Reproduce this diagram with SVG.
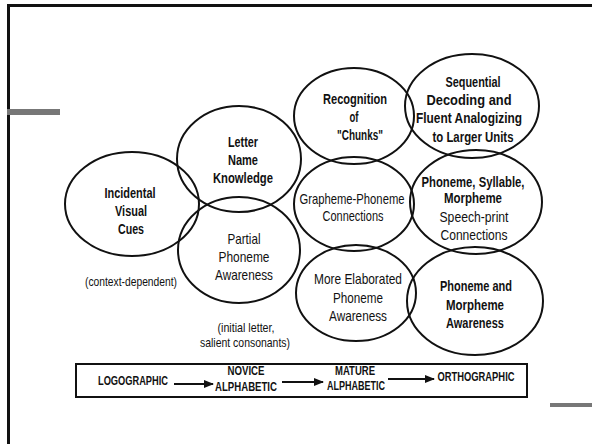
<svg xmlns="http://www.w3.org/2000/svg" width="592" height="444" viewBox="0 0 592 444">
<defs>
<style>
.e{fill:none;stroke:#111;stroke-width:2}
.t{font-family:"Liberation Sans",Arial,sans-serif;font-size:15px;font-weight:bold;fill:#111;text-anchor:middle}
.n{font-weight:normal}
.s{font-size:13px}
.b{font-size:12px}
.c{stroke:#111;stroke-width:2;fill:none}
</style>
<marker id="ah" viewBox="0 0 10 10" refX="9" refY="5" markerWidth="5" markerHeight="5" orient="auto" markerUnits="strokeWidth">
<path d="M0,1 L10,5 L0,9 Z" fill="#111"/>
</marker>
</defs>
<rect width="592" height="444" fill="#fff"/>
<path d="M8.5,444 V5.5 H592" fill="none" stroke="#111" stroke-width="3"/>
<rect x="7" y="109" width="53" height="6" fill="#777"/>
<rect x="550" y="403" width="42" height="4" fill="#777"/>

<g id="incidental">
<ellipse class="e" cx="132" cy="204" rx="67" ry="52"/>
<text class="t" x="130" y="198" textLength="51" lengthAdjust="spacingAndGlyphs">Incidental</text>
<text class="t" x="131" y="216" textLength="32" lengthAdjust="spacingAndGlyphs">Visual</text>
<text class="t" x="131" y="234" textLength="26" lengthAdjust="spacingAndGlyphs">Cues</text>
</g>
<g id="letter-name">
<ellipse class="e" cx="239" cy="159" rx="62" ry="53"/>
<text class="t" x="243" y="147" textLength="30" lengthAdjust="spacingAndGlyphs">Letter</text>
<text class="t" x="243" y="165" textLength="30" lengthAdjust="spacingAndGlyphs">Name</text>
<text class="t" x="243" y="183" textLength="60" lengthAdjust="spacingAndGlyphs">Knowledge</text>
</g>
<g id="partial">
<ellipse class="e" cx="239" cy="250" rx="61" ry="53"/>
<text class="t n" x="244" y="244" textLength="33" lengthAdjust="spacingAndGlyphs">Partial</text>
<text class="t n" x="244" y="262" textLength="51" lengthAdjust="spacingAndGlyphs">Phoneme</text>
<text class="t n" x="244" y="280" textLength="58" lengthAdjust="spacingAndGlyphs">Awareness</text>
</g>
<g id="chunks">
<ellipse class="e" cx="354" cy="116" rx="60" ry="48"/>
<text class="t" x="355" y="104" textLength="64" lengthAdjust="spacingAndGlyphs">Recognition</text>
<text class="t" x="354" y="122" textLength="9" lengthAdjust="spacingAndGlyphs">of</text>
<text class="t" x="360" y="140" textLength="46" lengthAdjust="spacingAndGlyphs">"Chunks"</text>
</g>
<g id="sequential">
<ellipse class="e" cx="472" cy="106" rx="67" ry="52"/>
<text class="t" x="473" y="87" textLength="55" lengthAdjust="spacingAndGlyphs">Sequential</text>
<text class="t" x="469" y="105" textLength="85" lengthAdjust="spacingAndGlyphs">Decoding and</text>
<text class="t" x="469" y="123" textLength="106" lengthAdjust="spacingAndGlyphs">Fluent Analogizing</text>
<text class="t" x="473" y="142" textLength="81" lengthAdjust="spacingAndGlyphs">to Larger Units</text>
</g>
<g id="grapheme">
<ellipse class="e" cx="354" cy="204" rx="60" ry="47"/>
<text class="t n" x="352" y="204" textLength="105" lengthAdjust="spacingAndGlyphs">Grapheme-Phoneme</text>
<text class="t n" x="353" y="221" textLength="61" lengthAdjust="spacingAndGlyphs">Connections</text>
</g>
<g id="syllable">
<ellipse class="e" cx="476" cy="202" rx="66" ry="52"/>
<text class="t" x="473" y="187" textLength="103" lengthAdjust="spacingAndGlyphs">Phoneme, Syllable,</text>
<text class="t" x="473" y="203" textLength="58" lengthAdjust="spacingAndGlyphs">Morpheme</text>
<text class="t n" x="474" y="222" textLength="69" lengthAdjust="spacingAndGlyphs">Speech-print</text>
<text class="t n" x="474" y="240" textLength="67" lengthAdjust="spacingAndGlyphs">Connections</text>
</g>
<g id="elaborated">
<ellipse class="e" cx="356" cy="293" rx="60" ry="48"/>
<text class="t n" x="358" y="284" textLength="88" lengthAdjust="spacingAndGlyphs">More Elaborated</text>
<text class="t n" x="358" y="303" textLength="50" lengthAdjust="spacingAndGlyphs">Phoneme</text>
<text class="t n" x="358" y="321" textLength="58" lengthAdjust="spacingAndGlyphs">Awareness</text>
</g>
<g id="morpheme">
<ellipse class="e" cx="475" cy="301" rx="68" ry="54"/>
<text class="t" x="476" y="291" textLength="72" lengthAdjust="spacingAndGlyphs">Phoneme and</text>
<text class="t" x="475" y="310" textLength="58" lengthAdjust="spacingAndGlyphs">Morpheme</text>
<text class="t" x="475" y="328" textLength="58" lengthAdjust="spacingAndGlyphs">Awareness</text>
</g>
<g id="labels">
<text class="t n s" x="131" y="286" textLength="92" lengthAdjust="spacingAndGlyphs">(context-dependent)</text>
<text class="t n s" x="246" y="332" textLength="57" lengthAdjust="spacingAndGlyphs">(initial letter,</text>
<text class="t n s" x="245" y="347" textLength="90" lengthAdjust="spacingAndGlyphs">salient consonants)</text>
</g>
<g id="stages">
<rect x="76" y="364" width="451" height="33" fill="none" stroke="#111" stroke-width="2"/>
<text class="t b" x="133" y="385" textLength="70" lengthAdjust="spacingAndGlyphs">LOGOGRAPHIC</text>
<text class="t b" x="246" y="375" textLength="37" lengthAdjust="spacingAndGlyphs">NOVICE</text>
<text class="t b" x="246" y="391" textLength="62" lengthAdjust="spacingAndGlyphs">ALPHABETIC</text>
<text class="t b" x="355" y="375" textLength="40" lengthAdjust="spacingAndGlyphs">MATURE</text>
<text class="t b" x="356" y="390" textLength="58" lengthAdjust="spacingAndGlyphs">ALPHABETIC</text>
<text class="t b" x="476" y="381" textLength="77" lengthAdjust="spacingAndGlyphs">ORTHOGRAPHIC</text>
</g>
<g id="connectors">
<line class="c" x1="174" y1="384" x2="213" y2="384" marker-end="url(#ah)"/>
<line class="c" x1="282" y1="382" x2="323" y2="382" marker-end="url(#ah)"/>
<line class="c" x1="388" y1="379" x2="434" y2="379" marker-end="url(#ah)"/>
</g>
</svg>
